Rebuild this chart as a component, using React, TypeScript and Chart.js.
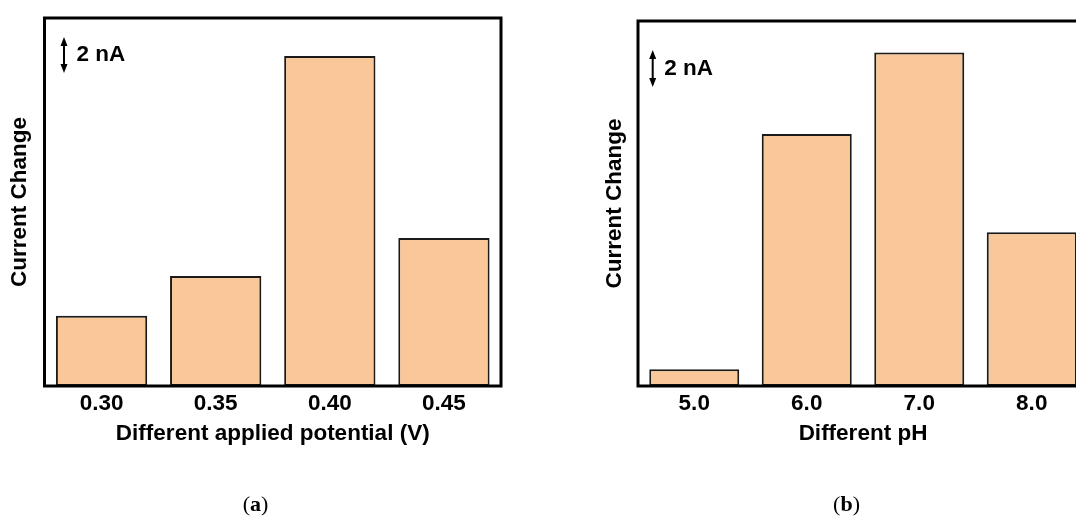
import React, { useEffect, useRef } from 'react';
import { Chart, registerables } from 'chart.js';

Chart.register(...registerables);

// ---- data ----
const potentialLabels = ['0.30', '0.35', '0.40', '0.45'];
const potentialValues = [3.9, 6.1, 18.3, 8.2]; // nA
const phLabels = ['5.0', '6.0', '7.0', '8.0'];
const phValues = [0.9, 13.6, 18.0, 8.3]; // nA
const SCALE_BAR_NA = 2;
const SCALE_BAR_LABEL = '2 nA';
const Y_TITLE = 'Current Change';
const X_TITLE_A = 'Different applied potential (V)';
const X_TITLE_B = 'Different pH';

const FONT = '"Liberation Sans", Arial, Helvetica, sans-serif';
const FONT_SIZE = 22.5;
const BAR_FILL = '#FAC898';
const BAR_EDGE = '#1a1a1a';

const frameAndScaleBar = {
  id: 'frameAndScaleBar',
  afterDatasetsDraw(chart: any, _args: any, opts: any) {
    const { ctx, chartArea: a, scales } = chart;
    ctx.save();
    ctx.strokeStyle = '#000';
    ctx.lineWidth = 3;
    ctx.strokeRect(a.left, a.top, a.right - a.left, a.bottom - a.top);

    const ys = scales.y;
    const len = ys.getPixelForValue(0) - ys.getPixelForValue(SCALE_BAR_NA);
    const cx = a.left + opts.dx;
    const cy = a.top + opts.dy;
    const y0 = cy - len / 2;
    const y1 = cy + len / 2;
    ctx.lineWidth = 2;
    ctx.beginPath();
    ctx.moveTo(cx, y0 + 6);
    ctx.lineTo(cx, y1 - 6);
    ctx.stroke();
    ctx.fillStyle = '#000';
    ctx.beginPath();
    ctx.moveTo(cx, y0);
    ctx.lineTo(cx - 3.5, y0 + 9);
    ctx.lineTo(cx + 3.5, y0 + 9);
    ctx.closePath();
    ctx.fill();
    ctx.beginPath();
    ctx.moveTo(cx, y1);
    ctx.lineTo(cx - 3.5, y1 - 9);
    ctx.lineTo(cx + 3.5, y1 - 9);
    ctx.closePath();
    ctx.fill();

    ctx.font = `bold ${FONT_SIZE}px ${FONT}`;
    ctx.textBaseline = 'middle';
    ctx.textAlign = 'left';
    ctx.fillText(SCALE_BAR_LABEL, cx + opts.gap, cy);
    ctx.restore();
  },
};

type Geom = {
  top: number;
  areaLeft: number;
  areaRight: number;
  areaBottom: number;
  canvasW: number;
  canvasH: number;
  yMax: number;
  yTitlePad: number;
  dx: number;
  dy: number;
  gap: number;
};

function makeConfig(labels: string[], values: number[], xTitle: string, g: Geom): any {
  const xHeight = 70;
  return {
    type: 'bar',
    data: {
      labels,
      datasets: [
        {
          data: values,
          backgroundColor: BAR_FILL,
          borderColor: BAR_EDGE,
          borderWidth: 2,
          borderSkipped: false,
          categoryPercentage: 1,
          barPercentage: 0.8,
        },
      ],
    },
    options: {
      responsive: false,
      animation: false,
      devicePixelRatio: 1,
      layout: {
        padding: {
          top: g.top,
          left: 0,
          right: g.canvasW - g.areaRight,
          bottom: g.canvasH - g.areaBottom - xHeight,
        },
      },
      plugins: {
        legend: { display: false },
        tooltip: { enabled: false },
        title: { display: false },
        frameAndScaleBar: { dx: g.dx, dy: g.dy, gap: g.gap },
      },
      scales: {
        x: {
          grid: { display: false, drawTicks: false, tickLength: 0 },
          border: { display: false },
          ticks: {
            color: '#000',
            font: { family: FONT, size: FONT_SIZE, weight: 'bold' },
            padding: 4.5,
            maxRotation: 0,
          },
          title: {
            display: true,
            text: xTitle,
            color: '#000',
            font: { family: FONT, size: FONT_SIZE, weight: 'bold' },
            padding: { top: 0, bottom: 9.2 },
          },
          afterFit: (s: any) => {
            s.height = xHeight;
          },
        },
        y: {
          min: 0,
          max: g.yMax,
          grid: { display: false, drawTicks: false, tickLength: 0 },
          border: { display: false },
          ticks: { display: false },
          title: {
            display: true,
            text: Y_TITLE,
            color: '#000',
            font: { family: FONT, size: FONT_SIZE, weight: 'bold' },
            padding: { top: g.yTitlePad, bottom: 0 },
          },
          afterFit: (s: any) => {
            s.width = g.areaLeft;
          },
        },
      },
    },
    plugins: [frameAndScaleBar],
  };
}

const geomA: Geom = {
  top: 18,
  areaLeft: 44.5,
  areaRight: 501,
  areaBottom: 386,
  canvasW: 540,
  canvasH: 517,
  yMax: 20.4,
  yTitlePad: 6.5,
  dx: 19.5,
  dy: 37,
  gap: 12.5,
};

const geomB: Geom = {
  top: 21,
  areaLeft: 58,
  areaRight: 508,
  areaBottom: 386,
  canvasW: 540,
  canvasH: 517,
  yMax: 19.7,
  yTitlePad: 21.2,
  dx: 14.7,
  dy: 47.5,
  gap: 11.6,
};

function Panel({ labels, values, xTitle, g, left }: { labels: string[]; values: number[]; xTitle: string; g: Geom; left: number }) {
  const ref = useRef<HTMLCanvasElement>(null);
  useEffect(() => {
    if (!ref.current) return;
    const chart = new Chart(ref.current, makeConfig(labels, values, xTitle, g));
    return () => chart.destroy();
  }, []);
  return (
    <canvas
      ref={ref}
      width={g.canvasW}
      height={g.canvasH}
      style={{ position: 'absolute', left, top: 0, width: g.canvasW, height: g.canvasH }}
    />
  );
}

const captionStyle: React.CSSProperties = {
  position: 'absolute',
  top: 491,
  width: 100,
  textAlign: 'center',
  fontFamily: '"Liberation Serif", "Times New Roman", serif',
  fontSize: 22,
  lineHeight: '25px',
  color: '#000',
};

export default function App() {
  return (
    <div
      style={{
        position: 'fixed',
        left: 0,
        top: 0,
        width: 1076,
        height: 517,
        overflow: 'hidden',
        background: '#fff',
      }}
    >
      <Panel labels={potentialLabels} values={potentialValues} xTitle={X_TITLE_A} g={geomA} left={0} />
      <Panel labels={phLabels} values={phValues} xTitle={X_TITLE_B} g={geomB} left={580} />
      <div style={{ ...captionStyle, left: 255.5 - 50 }}>
        (<b>a</b>)
      </div>
      <div style={{ ...captionStyle, left: 846.5 - 50 }}>
        (<b>b</b>)
      </div>
    </div>
  );
}
